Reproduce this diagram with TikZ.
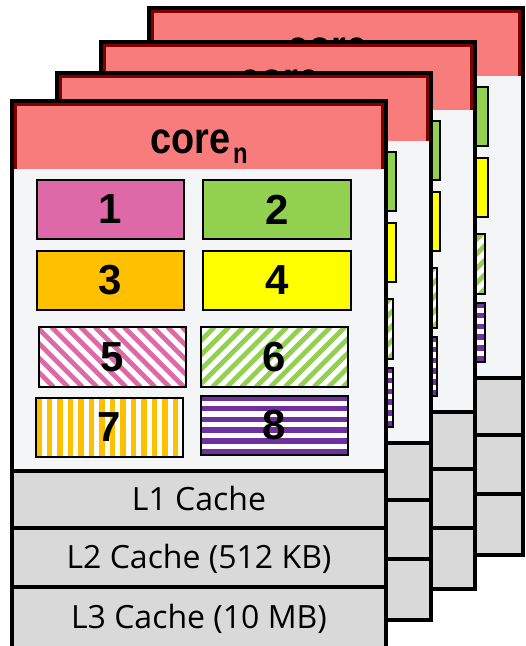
\documentclass[tikz,border=0pt]{standalone}
\usepackage{fontspec}
\setmainfont{Liberation Sans}
\newfontfamily\cachefont{Open Sans}
\definecolor{hdr}{HTML}{F87C7C}
\definecolor{hdrline}{HTML}{7F0000}
\definecolor{bodybg}{HTML}{F4F5F7}
\definecolor{cpink}{HTML}{DE69A9}
\definecolor{cgreen}{HTML}{92D050}
\definecolor{corange}{HTML}{FFC000}
\definecolor{cyellow}{HTML}{FFFF00}
\definecolor{cpurple}{HTML}{7030A0}
\definecolor{cachebg}{HTML}{D9D9D9}
\newcommand\corepart{\scalebox{0.86}[1]{\fontsize{44}{44}\selectfont core}}
\newcommand\coresub{\kern3pt\raisebox{-10pt}{\scalebox{0.82}[1]{\fontsize{29}{29}\selectfont n}}}
\tikzset{
  hdredge/.style={draw=hdrline, line width=3pt},
  cardedge/.style={draw=black, line width=4pt},
  coretext/.style={font=\bfseries, anchor=base, inner sep=0pt},
  unitbox/.style={draw=black, line width=1.5pt, inner sep=0pt, minimum width=147pt,
    minimum height=59pt, font=\fontsize{42}{42}\selectfont\bfseries},
  cacherow/.style={fill=cachebg, draw=black, line width=4pt, inner sep=0pt,
    minimum width=374pt, text height=22.5pt, text depth=0pt,
    font=\cachefont\fontsize{32}{32}\selectfont},
}
% #1 name prefix, #2 x, #3 y, #4 1 = front card (texts shown), #5 title, #6 title baseline
\newcommand\corecard[6]{%
\begin{scope}[shift={(#2,#3)}]
  \fill[bodybg] (0,0) rectangle (374,370);
  \fill[hdr] (0,0) rectangle (374,67.5);
  \draw[hdredge] (3.5,67.5) -- (3.5,3.5) -- (370.5,3.5) -- (370.5,67.5);
  \node[coretext] (#1-title) at (187,#6) {#5};
  \draw[cardedge] (0,0) rectangle (374,370);
  % striped fills
  \fill[white] (27,226) rectangle (174,286);
  \begin{scope}
    \clip (27,226) rectangle (174,286);
    \foreach \a in {-62,-47.5,...,180} \draw[cpink, line width=4.8pt] (\a,226) -- ++(60,60);
  \end{scope}
  \fill[white] (189,226) rectangle (336,286);
  \begin{scope}
    \clip (189,226) rectangle (336,286);
    \foreach \a in {128,142.5,...,340} \draw[cgreen, line width=4.8pt] (\a,286) -- ++(60,-60);
  \end{scope}
  \fill[white] (24,297) rectangle (171,356);
  \begin{scope}
    \clip (24,297) rectangle (171,356);
    \foreach \a in {27,37.5,...,172} \draw[corange, line width=5.5pt] (\a,297) -- (\a,356);
  \end{scope}
  \fill[white] (189,295) rectangle (336,354);
  \begin{scope}
    \clip (189,295) rectangle (336,354);
    \foreach \a in {297,307.7,...,356} \draw[cpurple, line width=5.5pt] (189,\a) -- (336,\a);
  \end{scope}
  \node[unitbox, fill=cpink] (#1-u1) at (98.5,108.5) {\ifnum#4=1 1\fi};
  \node[unitbox, fill=cgreen, minimum width=148pt] (#1-u2) at (265,108.5) {\ifnum#4=1 2\fi};
  \node[unitbox, fill=corange] (#1-u3) at (98.5,179.5) {\ifnum#4=1 3\fi};
  \node[unitbox, fill=cyellow, minimum width=148pt] (#1-u4) at (265,179.5) {\ifnum#4=1 4\fi};
  \node[unitbox, minimum height=60pt] (#1-u5) at (100.5,256) {\ifnum#4=1 5\fi};
  \node[unitbox, minimum height=60pt] (#1-u6) at (262.5,256) {\ifnum#4=1 6\fi};
  \node[unitbox] (#1-u7) at (97.5,326.5) {\ifnum#4=1 7\fi};
  \node[unitbox] (#1-u8) at (262.5,324.5) {\ifnum#4=1 8\fi};
  \node[cacherow, minimum height=57pt] (#1-l1) at (187,398.5) {\ifnum#4=1 L1 Cache\fi};
  \node[cacherow, minimum height=59pt] (#1-l2) at (187,456.5) {\ifnum#4=1 L2 Cache (512 KB)\fi};
  \node[cacherow, minimum height=61pt] (#1-l3) at (187,516.5) {\ifnum#4=1 L3 Cache (10 MB)\fi};
\end{scope}}
\begin{document}
\begin{tikzpicture}[x=1pt,y=-1pt]
  \useasboundingbox (0,0) rectangle (526,646);
  \corecard{c4}{149}{8}{0}{\corepart\hphantom{\coresub}}{53}
  \corecard{c3}{101}{42}{0}{\corepart\hphantom{\coresub}}{51}
  \corecard{c2}{57}{73}{0}{}{52}
  \corecard{c1}{12}{101}{1}{\corepart\coresub}{52}
\end{tikzpicture}
\end{document}
